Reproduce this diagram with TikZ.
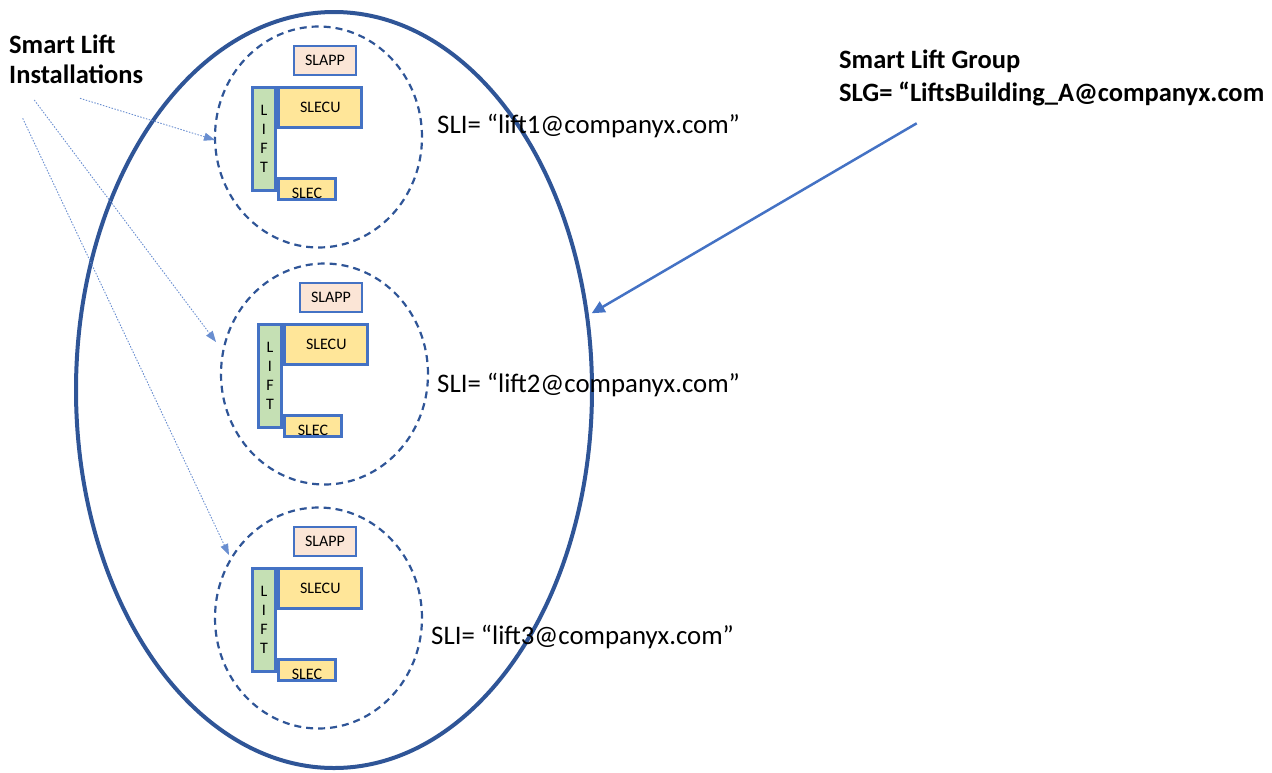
\documentclass[tikz,border=0pt]{standalone}
\usepackage{fontspec}
\setmainfont{Carlito}
\usetikzlibrary{arrows.meta,shapes.geometric}
\definecolor{dkblue}{HTML}{2F5597}
\definecolor{mblue}{HTML}{4472C4}
\definecolor{appfill}{HTML}{FBE5D6}
\definecolor{ecufill}{HTML}{FFE699}
\definecolor{liftfill}{HTML}{C5E0B4}
\begin{document}
\begin{tikzpicture}[x=1pt,y=-1pt,
  box/.style={draw=mblue, line width=3pt, inner sep=0pt, font=\fontsize{16}{19}\selectfont},
  appbox/.style={box, fill=appfill, line width=2.2pt},
  ecubox/.style={box, fill=ecufill},
  liftbox/.style={box, fill=liftfill, align=center},
  grpcircle/.style={ellipse, draw=dkblue, line width=2.2pt, dash pattern=on 7pt off 5pt, inner sep=0pt},
  biggroup/.style={ellipse, draw=dkblue, line width=4pt, inner sep=0pt},
  title/.style={inner sep=0pt, font=\fontsize{26.5}{31}\selectfont\bfseries},
  slitext/.style={inner sep=0pt, font=\fontsize{26.8}{31}\selectfont},
  dotarrow/.style={draw=mblue!80, line width=0.9pt, dash pattern=on 1.5pt off 1.5pt, -{Triangle[length=11pt,width=8pt]}},
  bigarrow/.style={draw=mblue, line width=2.5pt, -{Triangle[length=13pt,width=12pt]}}
]
\useasboundingbox (0,0) rectangle (1272,772);

% big group ellipse
\node[biggroup, minimum width=516pt, minimum height=756pt] (big) at (334,390) {};

% installations
\foreach \i/\dx/\dy in {1/0/0, 2/6/237, 3/0/481}{
  \begin{scope}[shift={(\dx,\dy)}]
    \node[grpcircle, minimum width=207pt, minimum height=221pt] (c\i) at (318.5,137) {};
    \node[appbox, minimum width=62pt, minimum height=29pt] (app\i) at (325,60.5) {SLAPP};
    \node[ecubox, minimum width=83pt, minimum height=40pt] (ecu\i) at (320.3,107.4) {SLECU};
    \node[ecubox, minimum width=56.7pt, minimum height=21.3pt] (ec\i) at (307,188.9) {\raisebox{-4pt}[\height][\depth]{SLEC}};
    \node[liftbox, minimum width=23.5pt, minimum height=103.5pt] (lift\i) at (264,139) {L\\I\\F\\T};
  \end{scope}
}

% SLI labels
\node[slitext, anchor=base west] (sli1) at (437,133) {SLI= “lift1@companyx.com”};
\node[slitext, anchor=base west] (sli2) at (437,392) {SLI= “lift2@companyx.com”};
\node[slitext, anchor=base west] (sli3) at (431,644) {SLI= “lift3@companyx.com”};

% titles
\node[title, anchor=base west] (inst1) at (9,53) {Smart Lift};
\node[title, anchor=base west] (inst2) at (9,83) {Installations};
\node[title, anchor=base west] (slg1) at (839,68) {Smart Lift Group};
\node[title, anchor=base west] (slg2) at (839,101) {SLG= “LiftsBuilding\_A@companyx.com};

% dotted arrows
\coordinate (s1) at (80,98.3);
\coordinate (s2) at (34.3,100);
\coordinate (s3) at (22.7,118.3);
\coordinate (t1) at (215,140);
\coordinate (t2) at (216,342);
\coordinate (t3) at (229,555);
\draw[dotarrow] (s1) -- (t1);
\draw[dotarrow] (s2) -- (t2);
\draw[dotarrow] (s3) -- (t3);

% group arrow
\coordinate (g0) at (916.7,123.3);
\coordinate (gt) at (591.7,313.3);
\draw[bigarrow] (g0) -- (gt);
\end{tikzpicture}
\end{document}
